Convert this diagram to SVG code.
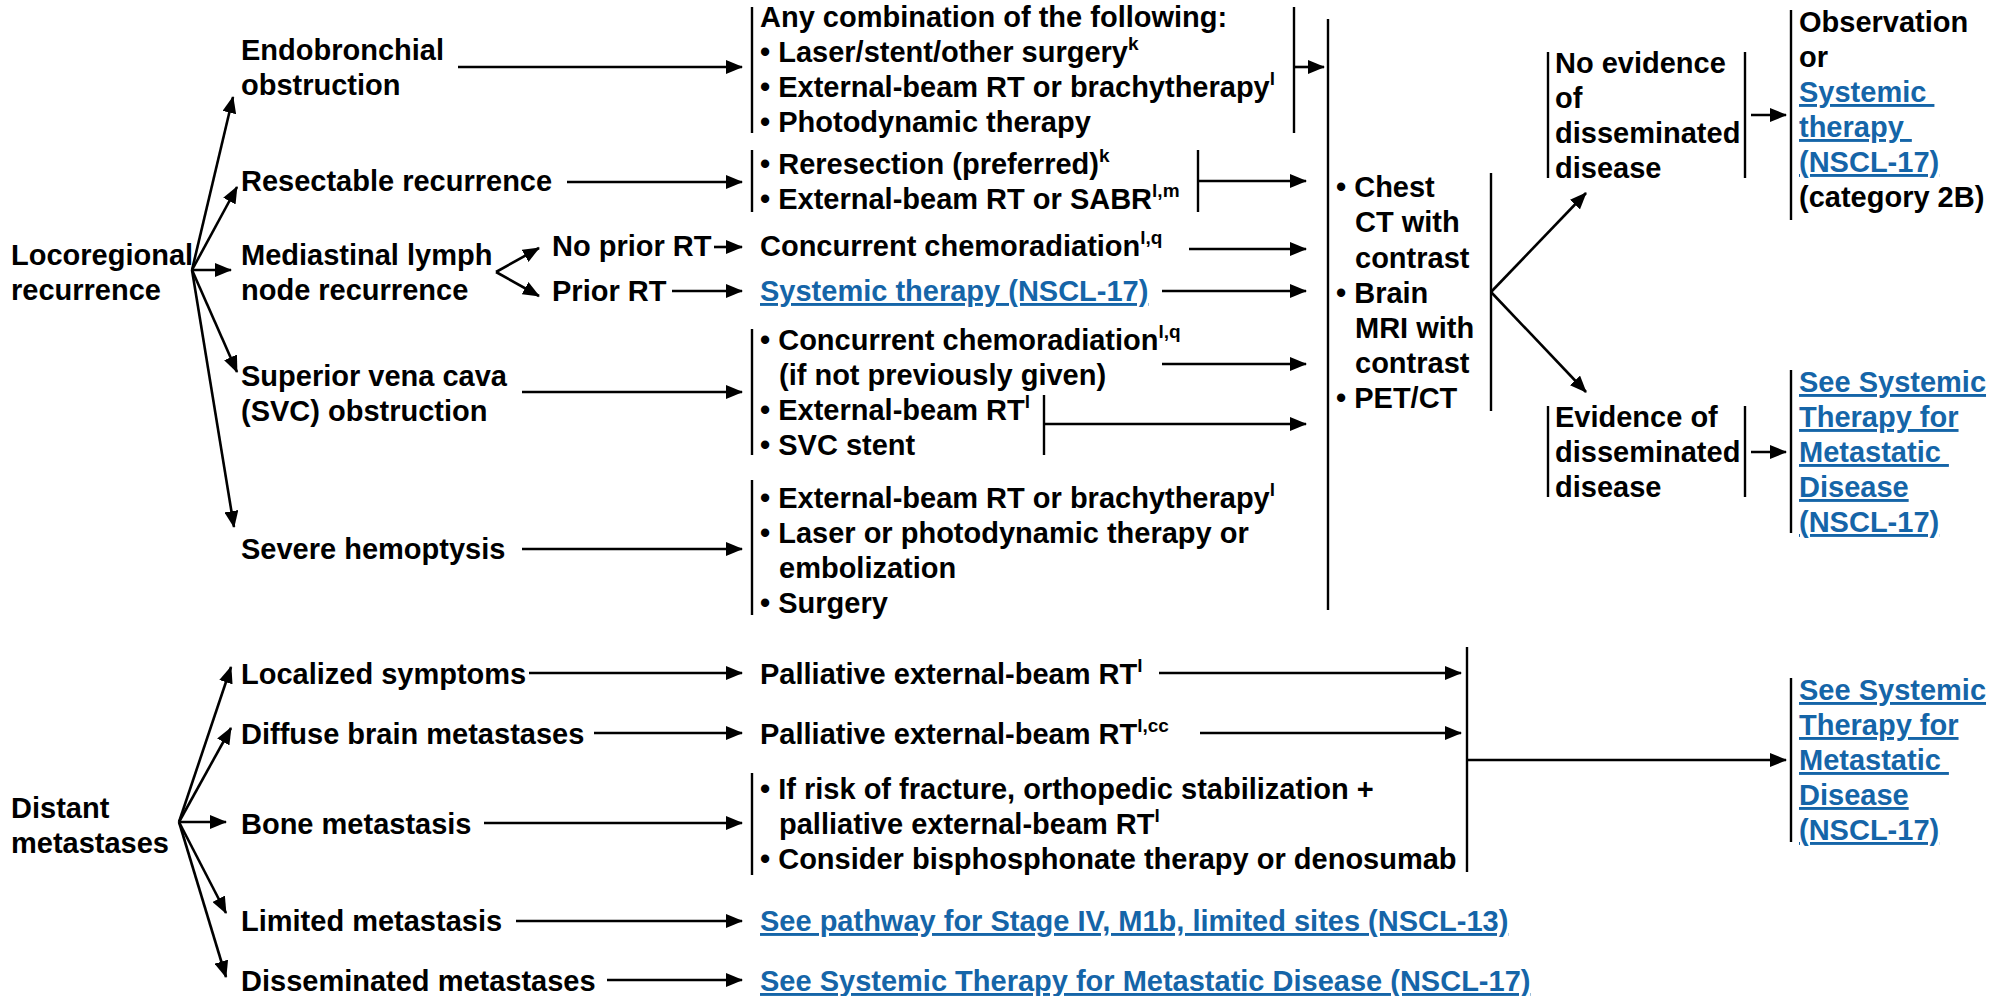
<svg xmlns="http://www.w3.org/2000/svg" width="2007" height="996" viewBox="0 0 2007 996">
<style>
.t{font-family:"Liberation Sans",Arial,Helvetica,sans-serif;font-size:29px;font-weight:bold;fill:#000}
.lk{fill:#1565A8;text-decoration:underline}
.sup{font-size:19px}
.br{stroke:#000;stroke-width:2.4;fill:none}
.c line,.c polyline{stroke:#000;stroke-width:2.6;fill:none}
.a{marker-end:url(#ah)}
</style>
<defs>
<marker id="ah" markerUnits="userSpaceOnUse" markerWidth="18" markerHeight="14" refX="16" refY="7" orient="auto">
<path d="M0,0 L17,7 L0,14 z" fill="#000"/>
</marker>
</defs>
<rect width="2007" height="996" fill="#fff"/>

<!-- Locoregional branch -->
<g id="n-locoregional"><text class="t" x="11" y="265">Locoregional</text><text class="t" x="11" y="300">recurrence</text></g>
<g id="n-endobronchial"><text class="t" x="241" y="60">Endobronchial</text><text class="t" x="241" y="95">obstruction</text></g>
<g id="n-resectable"><text class="t" x="241" y="191">Resectable recurrence</text></g>
<g id="n-mediastinal"><text class="t" x="241" y="265">Mediastinal lymph</text><text class="t" x="241" y="300">node recurrence</text></g>
<g id="n-noprior"><text class="t" x="552" y="256">No prior RT</text></g>
<g id="n-prior"><text class="t" x="552" y="301">Prior RT</text></g>
<g id="n-svc"><text class="t" x="241" y="386">Superior vena cava</text><text class="t" x="241" y="421">(SVC) obstruction</text></g>
<g id="n-hemoptysis"><text class="t" x="241" y="559">Severe hemoptysis</text></g>

<g id="n-endo-tx">
<line class="br" x1="752" y1="7" x2="752" y2="133"/><line class="br" x1="1294" y1="7" x2="1294" y2="133"/>
<text class="t" x="760" y="27">Any combination of the following:</text>
<text class="t" x="760" y="62">• Laser/stent/other surgery<tspan class="sup" dy="-12">k</tspan></text>
<text class="t" x="760" y="97">• External-beam RT or brachytherapy<tspan class="sup" dy="-12">l</tspan></text>
<text class="t" x="760" y="132">• Photodynamic therapy</text>
</g>
<g id="n-resect-tx">
<line class="br" x1="752" y1="150" x2="752" y2="212"/><line class="br" x1="1198" y1="150" x2="1198" y2="212"/>
<text class="t" x="760" y="174">• Reresection (preferred)<tspan class="sup" dy="-12">k</tspan></text>
<text class="t" x="760" y="209">• External-beam RT or SABR<tspan class="sup" dy="-12">l,m</tspan></text>
</g>
<g id="n-chemorad"><text class="t" x="760" y="256">Concurrent chemoradiation<tspan class="sup" dy="-12">l,q</tspan></text></g>
<g id="n-systemic1"><text class="t lk" x="760" y="301">Systemic therapy (NSCL-17)</text></g>
<g id="n-svc-tx">
<line class="br" x1="752" y1="329" x2="752" y2="455"/><line class="br" x1="1044" y1="395" x2="1044" y2="455"/>
<text class="t" x="760" y="350">• Concurrent chemoradiation<tspan class="sup" dy="-12">l,q</tspan></text>
<text class="t" x="779" y="385">(if not previously given)</text>
<text class="t" x="760" y="420">• External-beam RT<tspan class="sup" dy="-12">l</tspan></text>
<text class="t" x="760" y="455">• SVC stent</text>
</g>
<g id="n-hemo-tx">
<line class="br" x1="752" y1="480" x2="752" y2="615"/>
<text class="t" x="760" y="508">• External-beam RT or brachytherapy<tspan class="sup" dy="-12">l</tspan></text>
<text class="t" x="760" y="543">• Laser or photodynamic therapy or</text>
<text class="t" x="779" y="578">embolization</text>
<text class="t" x="760" y="613">• Surgery</text>
</g>
<g id="n-workup">
<line class="br" x1="1328" y1="19" x2="1328" y2="610"/><line class="br" x1="1491" y1="173" x2="1491" y2="411"/>
<text class="t" x="1336" y="197">• Chest</text>
<text class="t" x="1355" y="232">CT with</text>
<text class="t" x="1355" y="268">contrast</text>
<text class="t" x="1336" y="303">• Brain</text>
<text class="t" x="1355" y="338">MRI with</text>
<text class="t" x="1355" y="373">contrast</text>
<text class="t" x="1336" y="408">• PET/CT</text>
</g>
<g id="n-noevidence">
<line class="br" x1="1548" y1="52" x2="1548" y2="178"/><line class="br" x1="1745" y1="52" x2="1745" y2="178"/>
<text class="t" x="1555" y="73">No evidence</text>
<text class="t" x="1555" y="108">of</text>
<text class="t" x="1555" y="143">disseminated</text>
<text class="t" x="1555" y="178">disease</text>
</g>
<g id="n-observation">
<line class="br" x1="1791" y1="10" x2="1791" y2="220"/>
<text class="t" x="1799" y="32">Observation</text>
<text class="t" x="1799" y="67">or</text>
<text class="t lk" x="1799" y="102" xml:space="preserve">Systemic </text>
<text class="t lk" x="1799" y="137" xml:space="preserve">therapy </text>
<text class="t lk" x="1799" y="172">(NSCL-17)</text>
<text class="t" x="1799" y="207">(category 2B)</text>
</g>
<g id="n-evidence">
<line class="br" x1="1548" y1="406" x2="1548" y2="497"/><line class="br" x1="1745" y1="406" x2="1745" y2="497"/>
<text class="t" x="1555" y="427">Evidence of</text>
<text class="t" x="1555" y="462">disseminated</text>
<text class="t" x="1555" y="497">disease</text>
</g>
<g id="n-seesys1">
<line class="br" x1="1791" y1="370" x2="1791" y2="533"/>
<text class="t lk" x="1799" y="392">See Systemic</text>
<text class="t lk" x="1799" y="427">Therapy for</text>
<text class="t lk" x="1799" y="462" xml:space="preserve">Metastatic </text>
<text class="t lk" x="1799" y="497">Disease</text>
<text class="t lk" x="1799" y="532">(NSCL-17)</text>
</g>

<!-- Distant branch -->
<g id="n-distant"><text class="t" x="11" y="818">Distant</text><text class="t" x="11" y="853">metastases</text></g>
<g id="n-localized"><text class="t" x="241" y="684">Localized symptoms</text></g>
<g id="n-diffuse"><text class="t" x="241" y="744">Diffuse brain metastases</text></g>
<g id="n-bone"><text class="t" x="241" y="834">Bone metastasis</text></g>
<g id="n-limited"><text class="t" x="241" y="931">Limited metastasis</text></g>
<g id="n-dissem"><text class="t" x="241" y="991">Disseminated metastases</text></g>
<g id="n-pall1"><text class="t" x="760" y="684">Palliative external-beam RT<tspan class="sup" dy="-12">l</tspan></text></g>
<g id="n-pall2"><text class="t" x="760" y="744">Palliative external-beam RT<tspan class="sup" dy="-12">l,cc</tspan></text></g>
<g id="n-bone-tx">
<line class="br" x1="752" y1="773" x2="752" y2="875"/>
<text class="t" x="760" y="799">• If risk of fracture, orthopedic stabilization +</text>
<text class="t" x="779" y="834">palliative external-beam RT<tspan class="sup" dy="-12">l</tspan></text>
<text class="t" x="760" y="869">• Consider bisphosphonate therapy or denosumab</text>
</g>
<g id="n-merge"><line class="br" x1="1467" y1="647" x2="1467" y2="872"/></g>
<g id="n-pathway"><text class="t lk" x="760" y="931">See pathway for Stage IV, M1b, limited sites (NSCL-13)</text></g>
<g id="n-seesys3"><text class="t lk" x="760" y="991">See Systemic Therapy for Metastatic Disease (NSCL-17)</text></g>
<g id="n-seesys2">
<line class="br" x1="1791" y1="678" x2="1791" y2="842"/>
<text class="t lk" x="1799" y="700">See Systemic</text>
<text class="t lk" x="1799" y="735">Therapy for</text>
<text class="t lk" x="1799" y="770" xml:space="preserve">Metastatic </text>
<text class="t lk" x="1799" y="805">Disease</text>
<text class="t lk" x="1799" y="840">(NSCL-17)</text>
</g>

<g id="connectors" class="c">
<line class="a" x1="192" y1="270" x2="233" y2="97"/>
<line class="a" x1="192" y1="270" x2="237" y2="187"/>
<line class="a" x1="192" y1="270" x2="231" y2="270"/>
<line class="a" x1="192" y1="270" x2="237" y2="372"/>
<line class="a" x1="192" y1="270" x2="234" y2="527"/>
<line class="a" x1="496" y1="272" x2="539" y2="248"/>
<line class="a" x1="496" y1="272" x2="539" y2="296"/>
<line class="a" x1="714" y1="247" x2="742" y2="247"/>
<line class="a" x1="672" y1="291" x2="742" y2="291"/>
<line class="a" x1="458" y1="67" x2="742" y2="67"/>
<line class="a" x1="567" y1="182" x2="742" y2="182"/>
<line class="a" x1="522" y1="392" x2="742" y2="392"/>
<line class="a" x1="522" y1="549" x2="742" y2="549"/>
<line class="a" x1="1294" y1="67" x2="1324" y2="67"/>
<line class="a" x1="1198" y1="181" x2="1306" y2="181"/>
<line class="a" x1="1189" y1="249" x2="1306" y2="249"/>
<line class="a" x1="1162" y1="291" x2="1306" y2="291"/>
<line class="a" x1="1162" y1="364" x2="1306" y2="364"/>
<line class="a" x1="1044" y1="424" x2="1306" y2="424"/>
<line class="a" x1="1491" y1="292" x2="1586" y2="193"/>
<line class="a" x1="1491" y1="292" x2="1586" y2="392"/>
<line class="a" x1="1751" y1="115" x2="1786" y2="115"/>
<line class="a" x1="1751" y1="452" x2="1786" y2="452"/>
<line class="a" x1="179" y1="822" x2="231" y2="667"/>
<line class="a" x1="179" y1="822" x2="231" y2="728"/>
<line class="a" x1="179" y1="822" x2="226" y2="822"/>
<line class="a" x1="179" y1="822" x2="226" y2="913"/>
<line class="a" x1="179" y1="822" x2="226" y2="977"/>
<line class="a" x1="529" y1="673" x2="742" y2="673"/>
<line class="a" x1="594" y1="733" x2="742" y2="733"/>
<line class="a" x1="484" y1="823" x2="742" y2="823"/>
<line class="a" x1="516" y1="921" x2="742" y2="921"/>
<line class="a" x1="607" y1="980" x2="742" y2="980"/>
<line class="a" x1="1159" y1="673" x2="1461" y2="673"/>
<line class="a" x1="1200" y1="733" x2="1461" y2="733"/>
<line class="a" x1="1467" y1="760" x2="1786" y2="760"/>
</g>
</svg>
